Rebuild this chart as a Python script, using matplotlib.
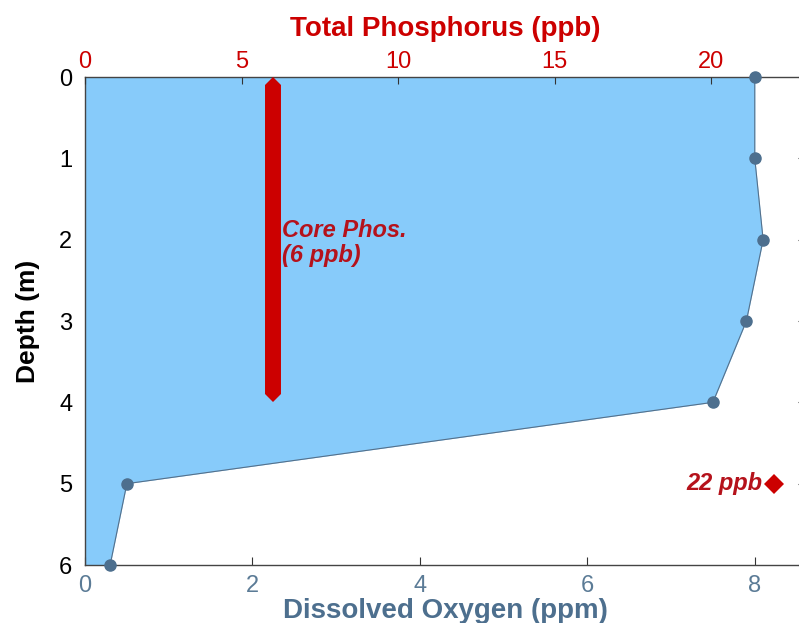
import matplotlib.pyplot as plt

# dissolved oxygen profile
depth = [0, 1, 2, 3, 4, 5, 6]
oxygen = [8.0, 8.0, 8.1, 7.9, 7.5, 0.5, 0.3]

# phosphorus
core_phos = 6
core_depth = [0.1, 3.9]
bottom_phos = 22
bottom_depth = 5

do_ticks = [0, 2, 4, 6, 8]
tp_ticks = [0, 5, 10, 15, 20]

red = "#cc0000"
txt_red = "#b5121b"
slate = "#4d6f8e"
fill_blue = "#87cbfa"

plt.rcParams["font.family"] = ["Liberation Sans", "DejaVu Sans"]

fig = plt.figure(figsize=(7.99, 6.23), dpi=100)
ax = fig.add_axes([85 / 799, 1 - 565 / 623, 720 / 799, 488 / 623])

ax.fill_betweenx(depth, 0, oxygen, color=fill_blue, lw=0, zorder=1)
ax.plot(oxygen, depth, color="#55708a", lw=0.8, zorder=2)
ax.plot(oxygen, depth, "o", color=slate, ms=8, clip_on=False, zorder=3)

ax.set_xlim(0, 8.6)
ax.set_ylim(6, 0)
ax.set_xticks(do_ticks)
ax.set_yticks(depth)
ax.tick_params(axis="x", direction="in", colors="#333333", labelcolor="#5b7b96",
               labelsize=17, length=6, pad=7)
ax.tick_params(axis="y", direction="in", left=False, right=True, labelsize=17,
               length=5, pad=9, colors="#333333", labelcolor="black")
ax.set_xlabel("Dissolved Oxygen (ppm)", color=slate, fontsize=20, fontweight="bold", labelpad=1)
ax.set_ylabel("Depth (m)", fontsize=19, fontweight="bold", labelpad=14)
for s in ax.spines.values():
    s.set_color("#444444")
    s.set_linewidth(1.0)

ax2 = ax.twiny()
ax2.set_xlim(0, 23)
ax2.set_xticks(tp_ticks)
ax2.tick_params(axis="x", direction="in", colors="#333333", labelcolor=red,
                labelsize=17, length=5, pad=3)
ax2.set_xlabel("Total Phosphorus (ppb)", color=red, fontsize=20, fontweight="bold", labelpad=11)
for s in ax2.spines.values():
    s.set_visible(False)

ax2.plot([core_phos, core_phos], core_depth, color=red, lw=11.5, solid_capstyle="butt",
         zorder=4)
ax2.plot([core_phos, core_phos], core_depth, "D", color=red, ms=8.2, mew=0, zorder=4)
ax2.text(core_phos + 0.3, 2.04, "Core Phos.\n(6 ppb)", color=txt_red, fontsize=17,
         fontweight="bold", fontstyle="italic", va="center", ha="left", linespacing=1.1)

ax2.plot([bottom_phos], [bottom_depth], "D", color=red, ms=10, mew=0, clip_on=False, zorder=4)
ax2.text(bottom_phos - 0.35, bottom_depth, "22 ppb", color=txt_red, fontsize=17,
         fontweight="bold", fontstyle="italic", va="center", ha="right")

fig.savefig("out.png", dpi=100)
